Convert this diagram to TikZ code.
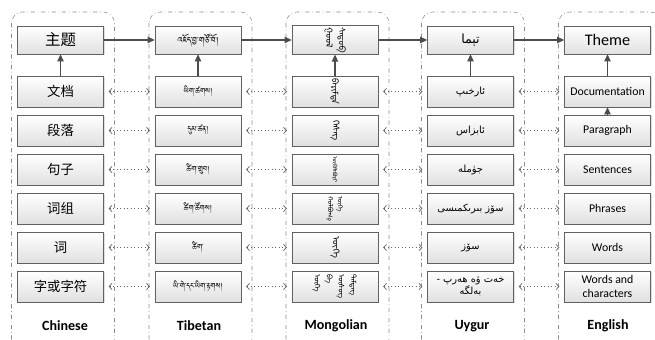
\documentclass[tikz,border=0pt]{standalone}
\usepackage{fontspec}
\usepackage{graphicx}
\setmainfont{Carlito}
\newfontfamily\zhfont{Noto Sans CJK SC}
\IfFontExistsTF{Tibetan Machine Uni}
    {\newfontfamily\tibfont[Script=Tibetan]{Tibetan Machine Uni}}
    {\IfFontExistsTF{Jomolhari}
        {\newfontfamily\tibfont[Script=Tibetan]{Jomolhari}}
        {\newfontfamily\tibfont{DejaVu Sans}}}
\newfontfamily\mongfont[Script=Mongolian]{Noto Sans Mongolian}
\newfontfamily\uyfont[Script=Arabic]{DejaVu Sans}
\TeXXeTstate=1
\usetikzlibrary{arrows.meta,shadows}

% vertical mongolian words, first word on the left
\newcommand{\mong}[1]{\rotatebox{-90}{\mongfont #1}}
\newcommand{\mongcols}[1]{\rotatebox{-90}{\mongfont\begin{tabular}{@{}l@{}}#1\end{tabular}}}

\begin{document}
\begin{tikzpicture}[x=0.025cm, y=-0.025cm,
    wordbox/.style={draw=black!62, top color=white, bottom color=black!12,
        minimum width=2.15cm, minimum height=0.775cm, inner sep=1pt, align=center,
        drop shadow={opacity=0.25, shadow xshift=0.8pt, shadow yshift=-0.8pt}},
    themebox/.style={wordbox, minimum height=0.7cm},
    langframe/.style={draw=black!45, dash dot, rounded corners=8pt},
    mainarrow/.style={draw=black!70, line width=0.8pt, -{Triangle[length=5pt,width=4.5pt]}},
    linkarrow/.style={draw=black!60, dotted, line width=0.5pt,
        {Straight Barb[length=2pt,width=4.5pt]}-{Straight Barb[length=2pt,width=4.5pt]},
        shorten <=3.5pt, shorten >=3.5pt},
    langlabel/.style={font=\bfseries\fontsize{10}{12}\selectfont}]

    \useasboundingbox (0,0) rectangle (655,340);
    \clip (0,0) rectangle (655,340);

    % one dashed frame per language
    \foreach \c in {60.5,198,335,470.5,607.5}
        \draw[langframe] ({\c-49},12) rectangle ({\c+54},350);

    % Chinese
    \node[themebox, font=\zhfont\fontsize{11}{13}\selectfont] (zh1) at (60.5,40) {主题};
    \foreach \t [count=\i from 2] in {文档,段落,句子,词组,词,字或字符}
        \node[wordbox, font=\zhfont\fontsize{9.5}{11}\selectfont] (zh\i) at (60.5,{91.5+39*(\i-2)}) {\t};

    % Tibetan
    \node[themebox, font=\tibfont\fontsize{7.5}{9}\selectfont] (bo1) at (198,40) {འཇོད་བྱ་གཙོ་བོ།};
    \foreach \t [count=\i from 2] in {ཡིག་ཚགས།,དུམ་ཚན།,ཚིག་གྲུབ།,ཚིག་ཚོགས།,ཚིག་,ཡི་གེ་དང་ཡིག་རྟགས།}
        \node[wordbox, font=\tibfont\fontsize{6.5}{8}\selectfont] (bo\i) at (198,{91.5+39*(\i-2)}) {\t};

    % Mongolian
    \node[themebox, font=\fontsize{6.3}{9}\selectfont] (mn1) at (335,40) {\mongcols{ᠰᠡᠳᠦᠪ\\ᠭᠣᠣᠯ}};
    \foreach \t [count=\i from 2] in {{\fontsize{6.3}{8}\selectfont\mong{ᠪᠠᠷᠢᠮᠲᠠ}},{\fontsize{6.5}{8}\selectfont\mong{ᠬᠡᠰᠡᠭ}},
            {\fontsize{4.2}{6}\selectfont\mong{ᠥᠭᠦᠯᠡᠪᠦᠷᠢ}},{\fontsize{4.8}{7}\selectfont\mongcols{ᠦᠭᠡ\\ᠬᠣᠯᠪᠣᠭ᠎ᠠ}},
            {\fontsize{6.5}{8}\selectfont\mong{ᠦᠭᠡ}},{\mongcols{ᠲᠡᠮᠳᠡᠭ\\ᠦᠰᠦᠭ\\ᠪᠠ\\ᠦᠭᠡ}}}
        \node[wordbox, font=\fontsize{5.5}{8.5}\selectfont] (mn\i) at (335,{91.5+39*(\i-2)}) {\t};

    % Uygur
    \node[themebox, font=\uyfont\fontsize{9}{11}\selectfont] (ug1) at (470.5,40) {\beginR تېما\endR};
    \foreach \t [count=\i from 2] in {{\beginR ئارخىپ\endR},{\beginR ئابزاس\endR},{\beginR جۈملە\endR},
            {\beginR سۆز بىرىكمىسى\endR},{\beginR سۆز\endR},{\beginR خەت ۋە ھەرپ -\endR\\\beginR بەلگە\endR}}
        \node[wordbox, font=\uyfont\fontsize{7}{9}\selectfont] (ug\i) at (470.5,{91.5+39*(\i-2)}) {\t};

    % English
    \node[themebox, font=\fontsize{11.5}{13}\selectfont] (en1) at (607.5,40) {Theme};
    \foreach \t [count=\i from 2] in {Documentation,Paragraph,Sentences,Phrases,Words,Words and\\characters}
        \node[wordbox, font=\fontsize{8.4}{10.5}\selectfont] (en\i) at (607.5,{91.5+39*(\i-2)}) {\t};

    % arrows
    \foreach \a/\b in {zh/bo,bo/mn,mn/ug,ug/en}
        \draw[mainarrow] (\a1) -- (\b1);
    \foreach \c in {zh,bo,mn,ug,en}
        \draw[mainarrow] (\c2) -- (\c1);
    \draw[mainarrow] (en3) -- (en2);
    \foreach \r in {2,...,7}
        \foreach \a/\b in {zh/bo,bo/mn,mn/ug,ug/en}
            \draw[linkarrow] (\a\r) -- (\b\r);

    \node[langlabel] (zhname) at (65,326) {Chinese};
    \node[langlabel] (boname) at (199,326) {Tibetan};
    \node[langlabel] (mnname) at (336,326) {Mongolian};
    \node[langlabel] (ugname) at (472,326) {Uygur};
    \node[langlabel] (enname) at (608,326) {English};

\end{tikzpicture}
\end{document}
